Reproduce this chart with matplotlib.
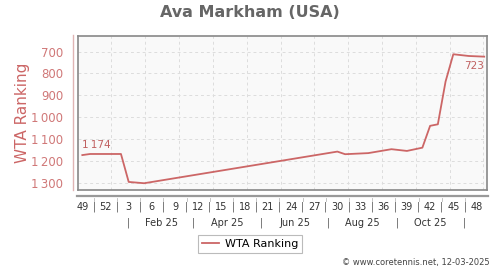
import matplotlib
matplotlib.use('Agg')
from matplotlib import pyplot as plt
from matplotlib.lines import Line2D
import numpy as np

# x = weeks counted from week 49 of 2024
weeks = [0, 1, 5, 6, 8, 33, 34, 37, 40, 42, 44, 45, 46, 47, 48, 50, 52]
ranking = [1174, 1169, 1169, 1297, 1303, 1158, 1170, 1165, 1147, 1155,
           1140, 1040, 1033, 837, 712, 720, 723]

week_labels = ['49', '52', '3', '6', '9', '12', '15', '18', '21', '24',
               '27', '30', '33', '36', '39', '42', '45', '48']
month_labels = ['Feb 25', 'Apr 25', 'Jun 25', 'Aug 25', 'Oct 25']
month_bounds = [6.0, 14.43, 23.14, 31.86, 40.71, 49.43]  # Jan 1 .. Nov 1
vgrid = [3.75, 8.15, 12.5, 16.9, 21.3, 25.7, 30.0, 34.4, 38.8, 43.2, 47.6, 51.9]
yticks = [700, 800, 900, 1000, 1100, 1200, 1300]

red = '#cc6666'

def fmt(v):
    s = f"{v:,}"
    return s.replace(',', '\u2009')

fig = plt.figure(figsize=(5, 2.7), dpi=100)
ax = fig.add_axes([0.1566, 0.2963, 0.818, 0.5715])
ax.set_facecolor('#f9f9f9')

ax.plot(weeks, ranking, color=red, lw=1.3, label='WTA Ranking', zorder=3)

ax.set_xlim(-0.52, 52.4)
ax.set_ylim(1334, 627)

ax.set_yticks(yticks)
ax.set_yticklabels([fmt(v) for v in yticks], color='#d07878', fontsize=8.5)
ax.tick_params(axis='y', length=0, pad=11)
ax.set_xticks(vgrid)
ax.tick_params(axis='x', length=0, labelbottom=False)
ax.grid(True, color='#dddddd', ls=(0, (3, 3)), lw=0.7)
for s in ax.spines.values():
    s.set_color('#888888')
    s.set_linewidth(1.2)

ax.set_ylabel('WTA Ranking', color=red, fontsize=11, labelpad=8)
ax.yaxis.set_label_coords(-0.118, 0.5)

# annotations at first and last point
ax.annotate(fmt(ranking[0]), (weeks[0], ranking[0]), xytext=(0, 4),
            textcoords='offset points', color='#c06060', fontsize=7.5,
            ha='left', va='bottom')
ax.annotate(fmt(ranking[-1]), (weeks[-1], ranking[-1]), xytext=(0, -3),
            textcoords='offset points', color='#c06060', fontsize=7.5,
            ha='right', va='top')

# extra axis lines
fig.add_artist(Line2D([73 / 500, 73 / 500], [1 - 35 / 270, 1 - 190 / 270],
                      color='#e0b4b4', lw=1))
fig.add_artist(Line2D([77 / 500, 488 / 500], [1 - 195.5 / 270, 1 - 195.5 / 270],
                      color='#999999', lw=1.6))

trans = ax.get_xaxis_transform()
# week row
for i, lab in enumerate(week_labels):
    ax.text(i * 3, -0.11, lab, transform=trans, ha='center', va='center',
            fontsize=7, color='#333333')
for i in range(len(week_labels) - 1):
    ax.text(i * 3 + 1.5, -0.11, '|', transform=trans, ha='center',
            va='center', fontsize=7, color='#555555')
    ax.plot([i * 3 + 1.5] * 2, [-0.055, -0.07], transform=trans,
            color='#bbbbbb', lw=0.6, clip_on=False)
# month row
for b in month_bounds:
    ax.text(b, -0.215, '|', transform=trans, ha='center', va='center',
            fontsize=7, color='#555555')
for i, lab in enumerate(month_labels):
    mid = (month_bounds[i] + month_bounds[i + 1]) / 2
    ax.text(mid, -0.215, lab, transform=trans, ha='center', va='center',
            fontsize=7, color='#333333')

fig.text(0.5, 0.952, 'Ava Markham (USA)', ha='center', va='center',
         fontsize=11.5, fontweight='bold', color='#666666')

leg = fig.legend(loc='center', bbox_to_anchor=(0.5, 1 - 244 / 270),
                 fontsize=8, frameon=True, fancybox=False, handlelength=1.6,
                 borderpad=0.35, handletextpad=0.5)
leg.get_frame().set_edgecolor('#aaaaaa')
leg.get_frame().set_linewidth(0.8)

fig.text(0.98, 1 - 263 / 270, '\u00a9 www.coretennis.net, 12-03-2025',
         ha='right', va='center', fontsize=6, color='#444444')

fig.savefig('out.png', dpi=100)
